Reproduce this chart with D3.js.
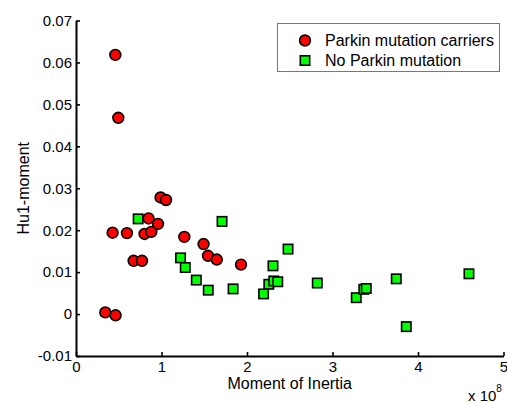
<!DOCTYPE html>
<html>
<head>
<meta charset="utf-8">
<script src="https://cdn.jsdelivr.net/npm/d3@7"></script>
<style>
  html, body { margin: 0; padding: 0; background: #fff; }
  svg text { font-family: "Liberation Sans", Arial, Helvetica, sans-serif; fill: #000; }
</style>
</head>
<body>
<svg id="chart" width="507" height="403"></svg>
<script>
// Moment of Inertia values are in units of 1e8
const carriersX = [0.460, 0.495, 0.989, 1.053, 0.849, 0.959, 0.428, 0.596, 0.802, 0.881, 0.674, 0.772, 1.267, 1.492, 1.544, 1.647, 1.930, 0.343, 0.463];
const carriersY = [0.0618, 0.0468, 0.0278, 0.0272, 0.0228, 0.0215, 0.0194, 0.0193, 0.0191, 0.0196, 0.0127, 0.0127, 0.0184, 0.0167, 0.0139, 0.0130, 0.0118, 0.0004, -0.0003];

const noMutX = [0.727, 1.708, 1.223, 1.278, 1.407, 1.547, 1.837, 2.480, 2.304, 2.255, 2.313, 2.360, 2.194, 2.822, 3.278, 3.366, 3.395, 3.746, 4.596, 3.863];
const noMutY = [0.0227, 0.0221, 0.0134, 0.0111, 0.0081, 0.0057, 0.0060, 0.0155, 0.0115, 0.0071, 0.0079, 0.0077, 0.0048, 0.0074, 0.0039, 0.0059, 0.0061, 0.0084, 0.0096, -0.0030];

const xTicks = [0, 1, 2, 3, 4, 5];
const yTicks = [-0.01, 0, 0.01, 0.02, 0.03, 0.04, 0.05, 0.06, 0.07];
const seriesNames = ["Parkin mutation carriers", "No Parkin mutation"];
const xLabel = "Moment of Inertia";
const yLabel = "Hu1-moment";

const svg = d3.select("#chart");
const x = d3.scaleLinear().domain([0, 5]).range([76, 503.5]);
const y = d3.scaleLinear().domain([-0.01, 0.07]).range([356, 20.5]);

const fsTick = 15, fsLab = 16;

// Axes
const xAxis = d3.axisBottom(x).tickValues(xTicks).tickFormat(d3.format("d"))
  .tickSizeInner(-4).tickSizeOuter(0).tickPadding(5);
const yAxis = d3.axisLeft(y).tickValues(yTicks)
  .tickFormat(d => d === 0 ? "0" : d.toFixed(2))
  .tickSizeInner(-4).tickSizeOuter(0).tickPadding(4);

const gx = svg.append("g").attr("transform", `translate(0,${y(-0.01)})`).call(xAxis);
const gy = svg.append("g").attr("transform", `translate(${x(0)},0)`).call(yAxis);
[gx, gy].forEach(g => {
  g.selectAll("path.domain").attr("stroke", "#000").attr("stroke-width", 2);
  g.selectAll(".tick line").attr("stroke", "#000").attr("stroke-width", 1.6);
  g.selectAll(".tick text").attr("font-size", fsTick).attr("font-family", "Liberation Sans, Arial, sans-serif").attr("fill", "#000");
});

// Axis labels
svg.append("text").attr("x", (x(0) + x(5)) / 2).attr("y", 389)
  .attr("text-anchor", "middle").attr("font-size", fsLab).text(xLabel);
svg.append("text").attr("transform", `translate(29,${(y(-0.01) + y(0.07)) / 2}) rotate(-90)`)
  .attr("text-anchor", "middle").attr("font-size", fsLab).text(yLabel);

// Exponent label
const ex = svg.append("text").attr("x", 468).attr("y", 401).attr("font-size", fsTick);
ex.append("tspan").text("x 10");
ex.append("tspan").attr("dy", -9).attr("font-size", 10).text("8");

// Data
const carriers = carriersX.map((v, i) => ({x: v, y: carriersY[i]}));
const noMut = noMutX.map((v, i) => ({x: v, y: noMutY[i]}));

const red = "#ff0000", green = "#00ff00";
const r = 5.4, s = 9.4;

svg.append("g").selectAll("circle").data(carriers).join("circle")
  .attr("cx", d => x(d.x)).attr("cy", d => y(d.y)).attr("r", r)
  .attr("fill", red).attr("stroke", "#000").attr("stroke-width", 1.6);

svg.append("g").selectAll("rect").data(noMut).join("rect")
  .attr("x", d => x(d.x) - s / 2).attr("y", d => y(d.y) - s / 2)
  .attr("width", s).attr("height", s)
  .attr("fill", green).attr("stroke", "#000").attr("stroke-width", 1.6);

// Legend
const lg = svg.append("g");
lg.append("rect").attr("x", 277.5).attr("y", 23.5).attr("width", 222).attr("height", 48)
  .attr("fill", "#fff").attr("stroke", "#777").attr("stroke-width", 1);
lg.append("circle").attr("cx", 305).attr("cy", 40.5).attr("r", r)
  .attr("fill", red).attr("stroke", "#000").attr("stroke-width", 1.6);
lg.append("rect").attr("x", 305 - s / 2).attr("y", 60.5 - s / 2).attr("width", s).attr("height", s)
  .attr("fill", green).attr("stroke", "#000").attr("stroke-width", 1.6);
lg.append("text").attr("x", 325).attr("y", 46).attr("font-size", fsLab).text(seriesNames[0]);
lg.append("text").attr("x", 325).attr("y", 66).attr("font-size", fsLab).text(seriesNames[1]);
</script>
</body>
</html>
